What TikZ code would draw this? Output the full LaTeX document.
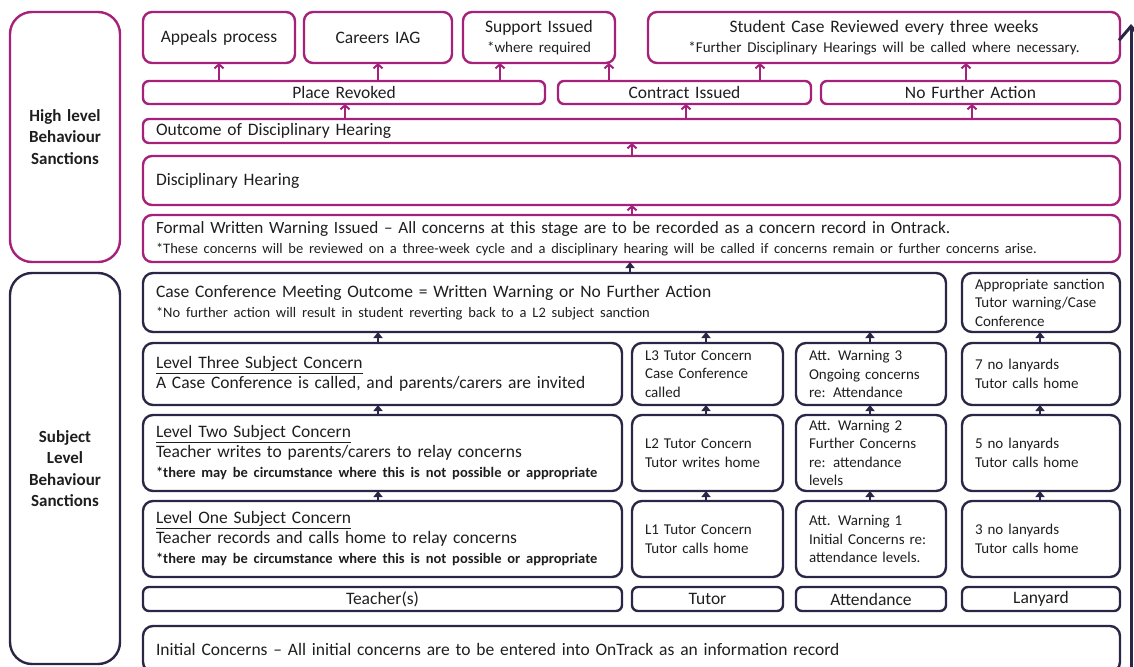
\documentclass[tikz,border=0pt]{standalone}
\usepackage{fontspec}
\setmainfont{Carlito}
\usetikzlibrary{arrows.meta}
\definecolor{mag}{RGB}{166,33,122}
\definecolor{nav}{RGB}{44,38,70}
\definecolor{txt}{RGB}{30,30,30}
\newcommand{\smf}{\fontsize{15}{20}\selectfont}
\newcommand{\smg}{\fontsize{14.5}{20}\selectfont}
\newcommand{\bsm}{\fontsize{14.5}{20}\selectfont\bfseries}
\newcommand{\BX}[7][]{%
  \pgfmathsetmacro\bxw{#5-#3}%
  \pgfmathsetmacro\bxh{#6-#4}%
  \pgfmathsetmacro\bxt{#5-#3-26}%
  \node[#1, anchor=north west, minimum width=\bxw pt, minimum height=\bxh pt, text width=\bxt pt] (#2) at (#3,#4) {#7};}
\tikzset{
  bxbase/.style={draw, line width=2.4pt, inner xsep=13pt, inner ysep=0pt, outer sep=0pt, text=txt, font=\fontsize{17.5}{20}\selectfont},
  mbox/.style={bxbase, draw=mag, rounded corners=9pt},
  mbar/.style={bxbase, draw=mag, rounded corners=6pt},
  nbox/.style={bxbase, draw=nav, rounded corners=10pt},
  nbar/.style={bxbase, draw=nav, rounded corners=6pt},
  side/.style={rounded corners=22pt, align=center, font=\fontsize{17}{21.5}\selectfont\bfseries},
  ctr/.style={align=center},
  lft/.style={align=left},
  sm/.style={font=\fontsize{15}{18.5}\selectfont},
  marr/.style={draw=mag, line width=2pt, -{Straight Barb[length=4pt,width=9pt,line width=2pt]}},
  narr/.style={draw=nav, line width=2pt, -{Triangle[length=6pt,width=9pt]}},
  bigarr/.style={draw=nav, line width=3pt, -{Straight Barb[length=14pt,width=24pt,line width=3pt]}}
}
\begin{document}
\begin{tikzpicture}[x=1pt,y=-1pt]
\useasboundingbox (0,0) rectangle (1134,666);
% side labels
\BX[mbox,side]{hl}{10}{12}{120}{262}{High level\\Behaviour\\Sanctions}
\BX[nbox,side]{sl}{10}{273}{120}{664}{Subject\\Level\\Behaviour\\Sanctions}
% top row
\BX[mbox,ctr]{ap}{143}{12}{295}{63}{Appeals process}
\BX[mbox,ctr]{ca}{304}{12}{452}{63}{Careers IAG}
\BX[mbox,ctr]{si}{463}{12}{615}{63}{Support Issued\\{\smf *where required}}
\BX[mbox,ctr]{sc}{648}{12}{1120}{63}{Student Case Reviewed every three weeks\\{\smf *Further Disciplinary Hearings will be called where necessary.}}
% row 2
\BX[mbar,ctr]{pr}{143}{81}{545}{104}{Place Revoked}
\BX[mbar,ctr]{ci}{558}{81}{811}{104}{Contract Issued}
\BX[mbar,ctr]{nf}{821}{81}{1120}{104}{No Further Action}
% rows 3-5
\BX[mbar,lft]{od}{143}{119}{1120}{143}{Outcome of Disciplinary Hearing}
\BX[mbox,lft]{dh}{143}{156}{1120}{205}{Disciplinary Hearing}
\BX[mbox,lft,font=\fontsize{17.2}{20}\selectfont]{fw}{143}{215}{1120}{262}{Formal Written Warning Issued -- All concerns at this stage are to be recorded as a concern record in Ontrack.\\{\smg *These concerns will be reviewed on a three-week cycle and a disciplinary hearing will be called if concerns remain or further concerns arise.}}
% subject section
\BX[nbox,lft]{cm}{143}{273}{946}{332}{Case Conference Meeting Outcome = Written Warning or No Further Action\\{\smg *No further action will result in student reverting back to a L2 subject sanction}}
\BX[nbox,lft,sm]{as}{962}{273}{1120}{332}{Appropriate sanction\\Tutor warning/Case\\Conference}
\BX[nbox,lft]{l3}{143}{343}{622}{405}{\underline{Level Three Subject Concern}\\A Case Conference is called, and parents/carers are invited}
\BX[nbox,lft,sm]{t3}{632}{343}{783}{405}{L3 Tutor Concern\\Case Conference\\called}
\BX[nbox,lft,sm]{a3}{796}{343}{946}{405}{Att. Warning 3\\Ongoing concerns\\re: Attendance}
\BX[nbox,lft,sm]{y3}{962}{343}{1120}{405}{7 no lanyards\\Tutor calls home}
\BX[nbox,lft]{l2}{143}{415}{622}{491}{\underline{Level Two Subject Concern}\\Teacher writes to parents/carers to relay concerns\\{\bsm *there may be circumstance where this is not possible or appropriate}}
\BX[nbox,lft,sm]{t2}{632}{415}{783}{491}{L2 Tutor Concern\\Tutor writes home}
\BX[nbox,lft,sm]{a2}{796}{415}{946}{491}{Att. Warning 2\\Further Concerns\\re: attendance\\levels}
\BX[nbox,lft,sm]{y2}{962}{415}{1120}{491}{5 no lanyards\\Tutor calls home}
\BX[nbox,lft]{l1}{143}{501}{622}{577}{\underline{Level One Subject Concern}\\Teacher records and calls home to relay concerns\\{\bsm *there may be circumstance where this is not possible or appropriate}}
\BX[nbox,lft,sm]{t1}{632}{501}{783}{577}{L1 Tutor Concern\\Tutor calls home}
\BX[nbox,lft,sm]{a1}{796}{501}{946}{577}{Att. Warning 1\\Initial Concerns re:\\attendance levels.}
\BX[nbox,lft,sm]{y1}{962}{501}{1120}{577}{3 no lanyards\\Tutor calls home}
\BX[nbar,ctr]{kt}{143}{587}{622}{611}{Teacher(s)}
\BX[nbar,ctr]{ku}{632}{587}{783}{611}{Tutor}
\BX[nbar,ctr]{ka}{796}{587}{946}{611}{Attendance}
\BX[nbar,ctr]{kl}{962}{587}{1120}{611}{Lanyard}
\BX[nbox,lft]{ic}{143}{626}{1120}{672}{Initial Concerns -- All initial concerns are to be entered into OnTrack as an information record}
% magenta arrows
\draw[marr] (219,0 |- pr.north) -- (219,0 |- ap.south);
\draw[marr] (378,0 |- pr.north) -- (378,0 |- ca.south);
\draw[marr] (500,0 |- pr.north) -- (500,0 |- si.south);
\draw[marr] (609,0 |- ci.north) -- (609,0 |- si.south);
\draw[marr] (760,0 |- ci.north) -- (760,0 |- sc.south);
\draw[marr] (966,0 |- nf.north) -- (966,0 |- sc.south);
\draw[marr] (345,0 |- od.north) -- (345,0 |- pr.south);
\draw[marr] (686,0 |- od.north) -- (686,0 |- ci.south);
\draw[marr] (972,0 |- od.north) -- (972,0 |- nf.south);
\draw[marr] (632,0 |- dh.north) -- (632,0 |- od.south);
\draw[marr] (632,0 |- fw.north) -- (632,0 |- dh.south);
% navy arrows
\draw[narr] (630,0 |- cm.north) -- (630,0 |- fw.south);
\draw[narr] (378,0 |- l3.north) -- (378,0 |- cm.south);
\draw[narr] (706,0 |- t3.north) -- (706,0 |- cm.south);
\draw[narr] (870,0 |- a3.north) -- (870,0 |- cm.south);
\draw[narr] (1040,0 |- y3.north) -- (1040,0 |- as.south);
\draw[narr] (378,0 |- l2.north) -- (378,0 |- l3.south);
\draw[narr] (706,0 |- t2.north) -- (706,0 |- t3.south);
\draw[narr] (870,0 |- a2.north) -- (870,0 |- a3.south);
\draw[narr] (1040,0 |- y2.north) -- (1040,0 |- y3.south);
\draw[narr] (378,0 |- l1.north) -- (378,0 |- l2.south);
\draw[narr] (706,0 |- t1.north) -- (706,0 |- t2.south);
\draw[narr] (870,0 |- a1.north) -- (870,0 |- a2.south);
\draw[narr] (1040,0 |- y1.north) -- (1040,0 |- y2.south);
% big arrow on right edge
\coordinate (bb) at (1131,700);
\coordinate (bt) at (1131,24);
\draw[bigarr] (bb) -- (bt);
\end{tikzpicture}
\end{document}
